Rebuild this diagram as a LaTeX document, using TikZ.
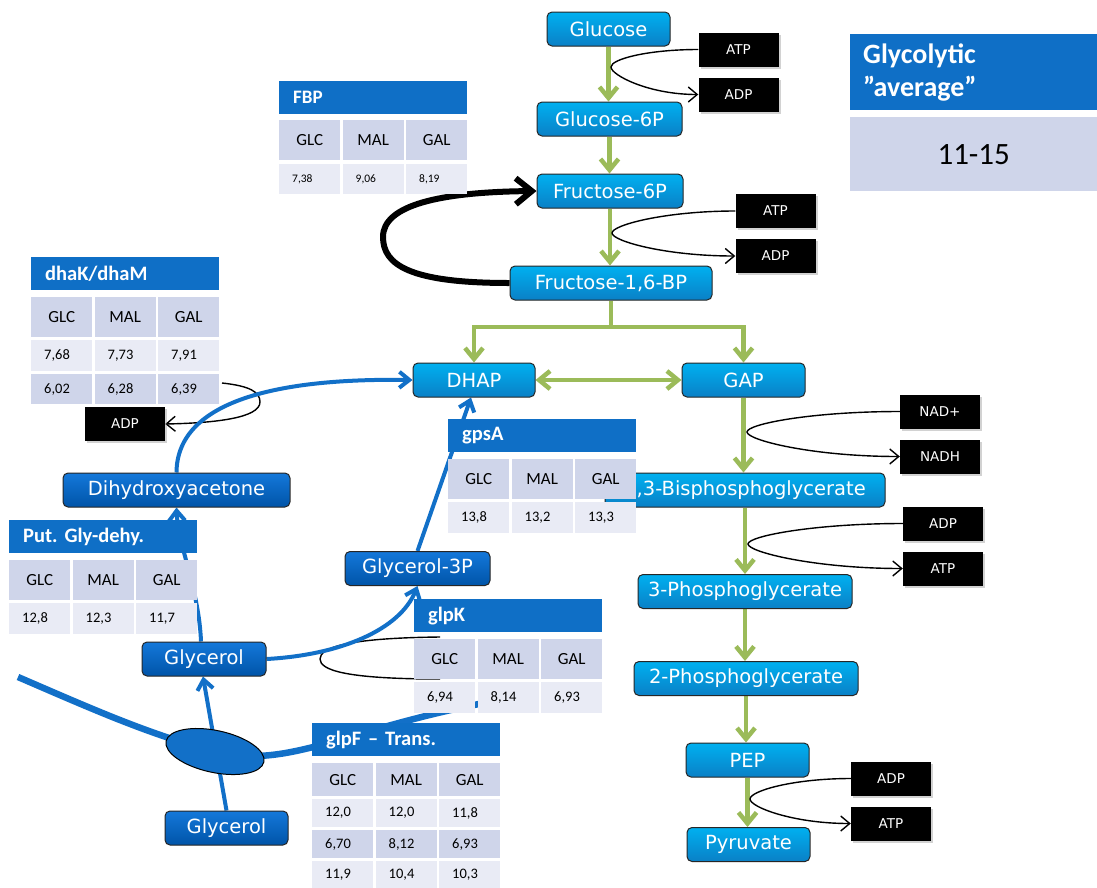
\documentclass[tikz,border=0pt]{standalone}
\usepackage{fontspec}
\newfontfamily\metfont{DejaVu Sans}
\newfontfamily\tabfont{Carlito}
\usetikzlibrary{arrows.meta,shapes.geometric,shadows}
\pgfdeclarelayer{back}
\pgfdeclarelayer{front}
\pgfsetlayers{back,main,front}
\frenchspacing

\definecolor{hdrblue}{HTML}{0F6FC6}
\definecolor{rowdark}{HTML}{CFD5EA}
\definecolor{rowlight}{HTML}{E9EBF5}
\definecolor{cyanTop}{HTML}{00B0F0}
\definecolor{cyanBot}{HTML}{0A80C6}
\definecolor{navyTop}{HTML}{1478DA}
\definecolor{navyBot}{HTML}{0054A8}
\definecolor{flowgreen}{HTML}{9BBB59}
\definecolor{routeblue}{HTML}{1270C8}

% one row of a three-column table: prefix, x, y, height, style, three entries
\newcommand\tabrow[8]{%
  \node[#5,minimum height=#4pt] (#1a) at (#2,#3) {#6};
  \node[#5,minimum height=#4pt] (#1b) at ({#2+63.5},#3) {#7};
  \node[#5,minimum height=#4pt] (#1c) at ({#2+127},#3) {#8};}

% cofactor loop: from box, to box, turning point, pull of the curve
\newcommand\cofloop[4]{%
  \draw[cofline] (#1.west) .. controls +(-#4,0) and +(0,-8) .. (#3)
    .. controls +(0,8) and +(-#4,0) .. (#2.west);}

\begin{document}
\begin{tikzpicture}[x=1pt,y=-1pt,
  met/.style={draw=black!85, line width=1pt, rounded corners=5pt,
    top color=cyanTop, bottom color=cyanBot, text=white, inner sep=0pt,
    minimum height=34pt, font=\metfont\fontsize{19.5}{22}\selectfont},
  dmet/.style={met, top color=navyTop, bottom color=navyBot},
  cof/.style={fill=black, text=white, inner sep=0pt, minimum width=80pt,
    minimum height=34pt, font=\metfont\fontsize{13.5}{15}\selectfont,
    drop shadow={shadow xshift=2pt, shadow yshift=-2pt, opacity=0.35}},
  pore/.style={ellipse, draw=black, line width=1pt, fill=routeblue,
    minimum width=100pt, minimum height=42pt, inner sep=0pt, rotate=-12},
  flowline/.style={draw=flowgreen, line width=4.5pt},
  flow/.style={flowline, -{Straight Barb[length=11pt,width=18pt]}},
  flowboth/.style={flowline, {Straight Barb[length=11pt,width=18pt]}-{Straight Barb[length=11pt,width=18pt]}},
  route/.style={draw=routeblue, line width=4pt, -{Straight Barb[length=10pt,width=16pt]}},
  membrane/.style={draw=routeblue, line width=6.5pt},
  cofline/.style={draw=black, line width=1.4pt, -{Straight Barb[length=9pt,width=15pt]}},
  cofplain/.style={draw=black, line width=1.4pt},
  backflow/.style={draw=black, line width=6pt, -{Straight Barb[length=16pt,width=26pt]}},
  thead/.style={anchor=north west, fill=hdrblue, text=white, minimum height=33pt,
    inner xsep=14pt, inner ysep=0pt, text width=160pt, align=left,
    font=\tabfont\bfseries\fontsize{20.5}{22}\selectfont},
  tcol/.style={anchor=north west, fill=rowdark, minimum width=61pt, inner sep=0pt,
    font=\tabfont\fontsize{17}{19}\selectfont},
  tnum/.style={anchor=north west, fill=#1, inner xsep=13pt, inner ysep=0pt,
    text width=35pt, align=left, font=\tabfont\fontsize{14.5}{16}\selectfont},
  tnumsmall/.style={tnum=#1, font=\tabfont\fontsize{11.5}{13}\selectfont},
]
\useasboundingbox (0,0) rectangle (1097,887);
\begin{pgfonlayer}{back}
  \fill[white] (0,0) rectangle (1097,887);
\end{pgfonlayer}

% glycolysis metabolites
\node[met, minimum width=123pt] (glc) at (608.5,29) {Glucose};
\node[met, minimum width=145pt] (g6p) at (609.5,119) {Glucose-6P};
\node[met, minimum width=146pt] (f6p) at (610,191) {Fructose-6P};
\node[met, minimum width=202pt] (f16) at (611,283) {Fructose-1,6-BP};
\node[met, minimum width=122pt] (dhap) at (474,380) {DHAP};
\node[met, minimum width=123pt] (gap) at (743.5,380) {GAP};
\node[met, minimum width=280pt] (bpg) at (745,490) {1,3-Bisphosphoglycerate};
\node[met, minimum width=214pt] (pg3) at (745,591.5) {3-Phosphoglycerate};
\node[met, minimum width=224pt] (pg2) at (746,678.5) {2-Phosphoglycerate};
\node[met, minimum width=123pt] (pep) at (747.5,760) {PEP};
\node[met, minimum width=123pt] (pyr) at (748.5,844.5) {Pyruvate};

% glycerol branch
\node[dmet, minimum width=227pt] (dha) at (176.5,490) {Dihydroxyacetone};
\node[dmet, minimum width=145pt] (g3p) at (417.5,568.5) {Glycerol-3P};
\node[dmet, minimum width=124pt] (glyin) at (204,659) {Glycerol};
\node[dmet, minimum width=123pt] (glyout) at (226.5,828) {Glycerol};
\node[pore] (pore) at (215,751.5) {};

% cofactors
\node[cof] (atp1) at (738.5,49.5) {ATP};
\node[cof] (adp1) at (738.5,94.5) {ADP};
\node[cof] (atp2) at (775.5,211) {ATP};
\node[cof] (adp2) at (775.5,256) {ADP};
\node[cof] (nad) at (940,411.5) {NAD+};
\node[cof] (nadh) at (940,456.5) {NADH};
\node[cof] (adp3) at (943,523.5) {ADP};
\node[cof] (atp3) at (943,568.5) {ATP};
\node[cof] (adp4) at (891,778.5) {ADP};
\node[cof] (atp4) at (891,823.5) {ATP};
\node[cof] (adp5) at (125,424) {ADP};

% turning points and free ends of curves
\coordinate (t1) at (611,67);
\coordinate (t2) at (612,233);
\coordinate (t3) at (747,432);
\coordinate (t4) at (748,544);
\coordinate (t5) at (750,799);
\coordinate (split) at (611,327);
\coordinate (bfturn) at (383,237);
\coordinate (dkstart) at (222,383);
\coordinate (dkturn) at (260,402);
\coordinate (gkin) at (440,637);
\coordinate (gkturn) at (320,659);
\coordinate (gkout) at (440,679);
\coordinate (memA) at (18,677);
\coordinate (memB) at (500,700);

\begin{pgfonlayer}{back}
  % glycolytic flux
  \draw[flow] (glc.south) -- (glc.south |- g6p.north);
  \draw[flow] (g6p.south) -- (g6p.south |- f6p.north);
  \draw[flow] (f6p.south) -- (f6p.south |- f16.north);
  \draw[flowline] (f16.south) -- (split);
  \draw[flow] (split) -| (dhap.north);
  \draw[flow] (split) -| (gap.north);
  \draw[flowboth] (dhap.east) -- (gap.west);
  \draw[flow] (gap.south) -- (gap.south |- bpg.north);
  \draw[flow] (bpg.south) -- (bpg.south |- pg3.north);
  \draw[flow] (pg3.south) -- (pg3.south |- pg2.north);
  \draw[flow] (pg2.south) -- (pg2.south |- pep.north);
  \draw[flow] (pep.south) -- (pep.south |- pyr.north);

  % FBP feedback
  \draw[backflow] (f16.west) .. controls (410,283) and (383,265) .. (bfturn)
    .. controls (383,205) and (440,192) .. (f6p.west);

  % cofactor loops
  \cofloop{atp1}{adp1}{t1}{50}
  \cofloop{atp2}{adp2}{t2}{70}
  \cofloop{nad}{nadh}{t3}{88}
  \cofloop{adp3}{atp3}{t4}{88}
  \cofloop{adp4}{atp4}{t5}{58}
  \draw[cofline] (dkstart) .. controls (250,386) and (260,392) .. (dkturn)
    .. controls (260,418) and (215,423) .. (adp5.east);
  \draw[cofplain] (gkin) .. controls (345,638) and (320,648) .. (gkturn)
    .. controls (320,670) and (345,679) .. (gkout);

  % membrane
  \draw[membrane] (memA) .. controls (90,708) and (150,735) .. (pore.center)
    .. controls (290,770) and (345,728) .. (memB);

  % glycerol utilisation
  \draw[route] (glyout.north) -- ([xshift=-1pt]glyin.south);
  \draw[route] ([xshift=-3pt]glyin.north) .. controls (199,590) and (178,545) .. (dha.south);
  \draw[route] (dha.north) .. controls (177,400) and (280,378) .. (dhap.west);
  \draw[route] (glyin.east) .. controls (340,655) and (400,630) .. (g3p.south);
  \draw[route] (g3p.north) -- ([xshift=-3pt]dhap.south);
\end{pgfonlayer}

\begin{pgfonlayer}{front}
  % FBP
  \node[thead, font=\tabfont\bfseries\fontsize{19}{21}\selectfont] (fbph) at (279,81) {FBP};
  \tabrow{fbpt}{279}{120}{40}{tcol}{GLC}{MAL}{GAL}
  \tabrow{fbpv}{279}{164}{30}{tnumsmall=rowlight}{7,38}{9,06}{8,19}
  % dhaK/dhaM
  \node[thead] (dkh) at (31,257) {dhaK/dhaM};
  \tabrow{dkt}{31}{297}{40}{tcol}{GLC}{MAL}{GAL}
  \tabrow{dkv}{31}{340}{31}{tnum=rowlight}{7,68}{7,73}{7,91}
  \tabrow{dkw}{31}{374}{30}{tnum=rowdark}{6,02}{6,28}{6,39}
  % gpsA
  \node[thead] (gph) at (448,419) {gpsA};
  \tabrow{gpt}{448}{459}{40}{tcol}{GLC}{MAL}{GAL}
  \tabrow{gpv}{448}{502}{31}{tnum=rowlight}{13,8}{13,2}{13,3}
  % putative glycerol dehydrogenase
  \node[thead] (pgh) at (9,520) {Put. Gly-dehy.};
  \tabrow{pgt}{9}{560}{40}{tcol}{GLC}{MAL}{GAL}
  \tabrow{pgv}{9}{603}{31}{tnum=rowlight}{12,8}{12,3}{11,7}
  % glpK
  \node[thead] (gkh) at (414,599) {glpK};
  \tabrow{gkt}{414}{639}{40}{tcol}{GLC}{MAL}{GAL}
  \tabrow{gkv}{414}{682}{31}{tnum=rowlight}{6,94}{8,14}{6,93}
  % glpF transporter
  \node[thead] (gfh) at (312,723) {glpF – Trans.};
  \tabrow{gft}{312}{763}{33}{tcol}{GLC}{MAL}{GAL}
  \tabrow{gfv}{312}{799}{28}{tnum=rowlight}{12,0}{12,0}{11,8}
  \tabrow{gfw}{312}{830}{28}{tnum=rowdark}{6,70}{8,12}{6,93}
  \tabrow{gfx}{312}{861}{28}{tnum=rowlight}{11,9}{10,4}{10,3}
  % glycolytic average
  \node[anchor=north west, fill=hdrblue, text=white, minimum height=76pt,
    inner xsep=13pt, inner ysep=0pt, text width=221pt, align=left,
    font=\tabfont\bfseries\fontsize{28}{33}\selectfont] (avgh) at (850,34)
    {Glycolytic\\”average”};
  \node[anchor=north west, fill=rowdark, minimum width=247pt, minimum height=74pt,
    inner sep=0pt, font=\tabfont\fontsize{31}{34}\selectfont] (avgv) at (850,117) {11-15};
\end{pgfonlayer}
\end{tikzpicture}
\end{document}
